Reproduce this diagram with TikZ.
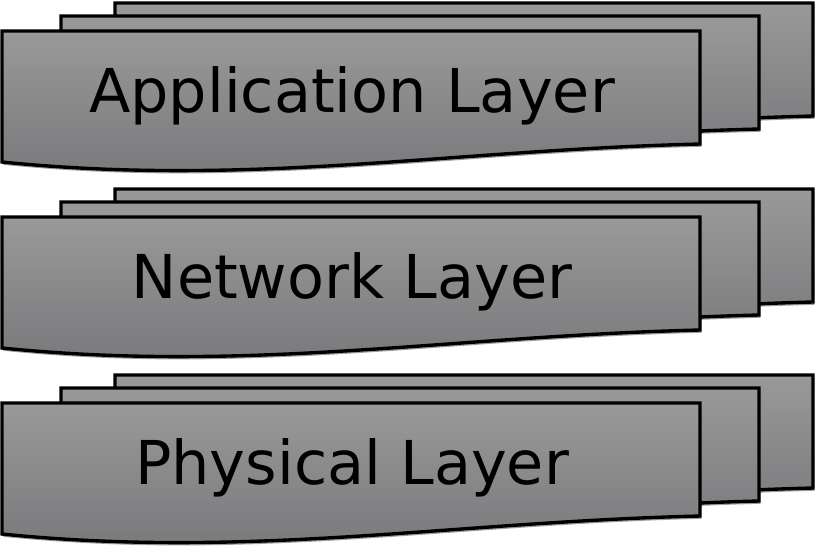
\documentclass[tikz,border=0pt]{standalone}
\usepackage{fontspec}
\setmainfont{DejaVu Sans}
\usetikzlibrary{shadows}
\definecolor{sheettop}{RGB}{153,153,153}
\definecolor{sheetbot}{RGB}{118,119,121}
\begin{document}
\begin{tikzpicture}[
		x=0.025cm, y=-0.025cm,
		sheetline/.style={draw=black, line width=2.4pt, line join=miter,
			top color=sheettop, bottom color=sheetbot,
			drop shadow={shadow xshift=1pt, shadow yshift=-2pt,
				fill=black!70, opacity=0.55}},
		lbl/.style={anchor=base, font=\fontsize{43}{50}\selectfont, text=black},
		sheet/.pic={
			\path[sheetline] (0,0) -- (698,0) -- (698,113)
				.. controls (448,119) and (248,156) .. (0,131) -- cycle;
		},
	]
		\useasboundingbox (0,0) rectangle (820,548);

		% drei Stapel, je drei Blätter (hinten nach vorne)
		\foreach \y/\txt/\nm in {31/Application Layer/app,
				217/Network Layer/net, 403/Physical Layer/phy} {
			\pic at (115,\y-28) {sheet};
			\pic at (61,\y-15) {sheet};
			\pic at (2,\y) {sheet};
			\node[lbl] (\nm) at (352,\y+81) {\txt};
		}
	\end{tikzpicture}
\end{document}
